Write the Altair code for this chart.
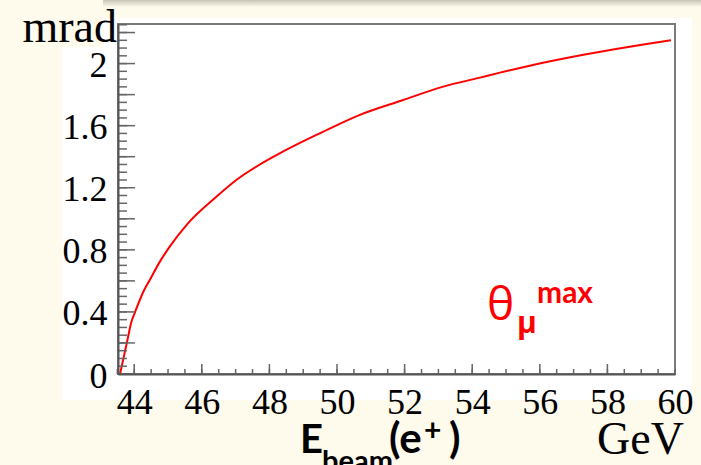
import altair as alt
import pandas as pd

# ---- data ----
energy = [43.58, 43.78, 43.92, 44.02, 44.27, 44.46, 44.76, 45.05, 45.59, 46.43,
          47.02, 48.30, 49.58, 50.66, 51.94, 53.12, 54.20, 54.79, 55.67, 57.25,
          59.11, 59.88]
theta = [0.0, 0.199, 0.338, 0.396, 0.530, 0.606, 0.724, 0.821, 0.971, 1.142,
         1.250, 1.421, 1.560, 1.668, 1.764, 1.850, 1.908, 1.940, 1.985, 2.055,
         2.125, 2.150]

x_labels = [44, 46, 48, 50, 52, 54, 56, 58, 60]
y_labels = [0, 0.4, 0.8, 1.2, 1.6, 2.0]
x_major = [44, 46, 48, 50, 52, 54, 56, 58]
x_minor = [round(43.5 + 0.5 * i, 2) for i in range(34)]
y_major = [round(0.2 * i, 2) for i in range(12)]
y_minor = [round(0.05 * i, 2) for i in range(46)]

W, H = 557, 350
CREAM = "#FEFAEC"
xs = alt.Scale(domain=[43.52, 60.0], nice=False, zero=False)
ys = alt.Scale(domain=[0, 2.255], nice=False, zero=True)

x_axis = alt.Axis(values=x_labels, ticks=False, tickSize=0, grid=False, format="~g",
                  labelFont="Liberation Serif", labelFontSize=36,
                  labelColor="black", labelBaseline="alphabetic",
                  labelPadding=39, domainColor="#555555", domainWidth=2,
                  labelFlush=False, labelOverlap=False, zindex=2)
y_axis = alt.Axis(values=y_labels, ticks=False, tickSize=0, grid=False, format="~g",
                  labelFont="Liberation Serif", labelFontSize=36,
                  labelColor="black", labelPadding=11, labelOffset=2,
                  domainColor="#555555", domainWidth=2,
                  labelFlush=False, labelOverlap=False, zindex=2)

curve_df = pd.DataFrame({"E": energy, "theta": theta})
one = pd.DataFrame({"k": [0]})

white_bg = alt.Chart(one).mark_rect(fill="white").encode(
    x=alt.value(-56), x2=alt.value(574), y=alt.value(-6), y2=alt.value(376))
cream_box = alt.Chart(one).mark_rect(fill=CREAM).encode(
    x=alt.value(-118), x2=alt.value(-15), y=alt.value(-24), y2=alt.value(23))
shadow = alt.Chart(one).mark_rect(
    fill=alt.Gradient(gradient="linear",
                      stops=[alt.GradientStop(color="#c8c4b6", offset=0),
                             alt.GradientStop(color=CREAM, offset=1)],
                      x1=0, x2=0, y1=0, y2=1)
).encode(x=alt.value(-118), x2=alt.value(583), y=alt.value(-24), y2=alt.value(-17))

frame = alt.Chart(one).mark_rect(fill=None, stroke="#7a7a7a", strokeWidth=2).encode(
    x=alt.value(0), x2=alt.value(W), y=alt.value(0), y2=alt.value(H))

curve = alt.Chart(curve_df).mark_line(color="#FF0000", strokeWidth=2,
                                      interpolate="monotone").encode(
    x=alt.X("E:Q", scale=xs, title=None, axis=x_axis),
    y=alt.Y("theta:Q", scale=ys, title=None, axis=y_axis),
)

def xtick(vals, length):
    return alt.Chart(pd.DataFrame({"v": vals})).mark_rule(
        color="#666666", strokeWidth=1.5).encode(
        x=alt.X("v:Q", scale=xs, title=None, axis=x_axis),
        y=alt.value(H), y2=alt.value(H - length))

def ytick(vals, length):
    return alt.Chart(pd.DataFrame({"v": vals})).mark_rule(
        color="#666666", strokeWidth=1.5).encode(
        y=alt.Y("v:Q", scale=ys, title=None, axis=y_axis),
        x=alt.value(0), x2=alt.value(length))


def txt(s, x, y, size, font, color="black", weight="normal", align="left"):
    return alt.Chart(one).mark_text(
        text=s, font=font, fontSize=size, fontWeight=weight, color=color,
        align=align, baseline="alphabetic").encode(x=alt.value(x), y=alt.value(y))


texts = [
    txt("mrad", -1, 18, 46, "Liberation Serif", align="right"),
    txt("GeV", 479, 430, 46, "Liberation Serif"),
    txt("E", 182, 429, 40, "Lato", weight="bold"),
    txt("beam", 204, 447, 29, "Lato", weight="bold"),
    txt("(e", 271, 429, 42, "Lato", weight="bold"),
    txt("+", 306, 417, 30, "Lato", weight="bold"),
    txt(")", 331, 429, 42, "Lato", weight="bold"),
    txt("θ", 369, 296, 46, "Open Sans", color="#FF0000"),
    txt("μ", 399, 309, 30, "Open Sans", color="#FF0000", weight="bold"),
    txt("max", 419, 279, 30, "Lato", color="#FF0000", weight="bold"),
]

chart = alt.layer(shadow, white_bg, cream_box, frame, curve,
                  xtick(x_major, 10), xtick(x_minor, 5),
                  ytick(y_major, 17), ytick(y_minor, 9), *texts).properties(
    width=W, height=H, background=CREAM,
    padding={"left": 118, "top": 24, "right": 26, "bottom": 91},
    autosize=alt.AutoSizeParams(type="none"),
).configure_view(stroke=None)

chart.save("out.html", embed_options={"renderer": "svg", "actions": False})
